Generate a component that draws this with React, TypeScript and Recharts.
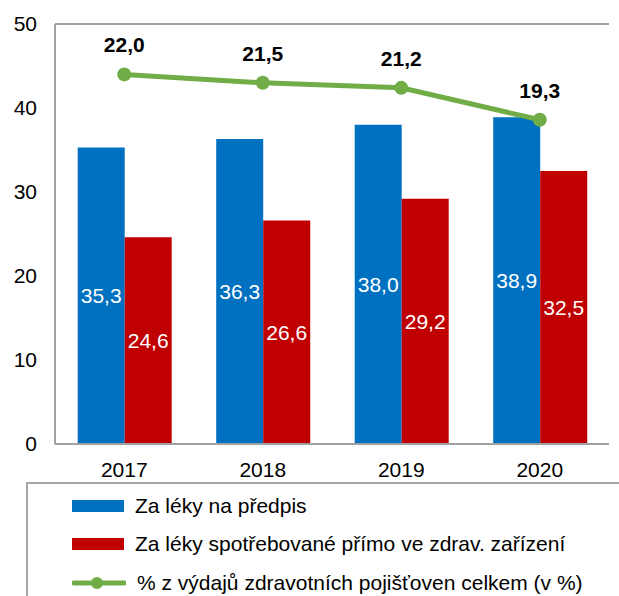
import React from 'react';
import {
  ComposedChart,
  Bar,
  Line,
  XAxis,
  YAxis,
  CartesianGrid,
  LabelList,
  ReferenceLine,
} from 'recharts';

const years = ['2017', '2018', '2019', '2020'];
const prescription = [35.3, 36.3, 38.0, 38.9];
const facility = [24.6, 26.6, 29.2, 32.5];
const shareOfTotal = [22.0, 21.5, 21.2, 19.3];
const leftTicks = [0, 10, 20, 30, 40, 50];

const seriesNames = [
  'Za léky na předpis',
  'Za léky spotřebované přímo ve zdrav. zařízení',
  '% z výdajů zdravotních pojišťoven celkem (v %)',
];

const BLUE = '#0070C0';
const RED = '#C00000';
const GREEN = '#70AD47';
const FONT = '"Liberation Sans", Arial, sans-serif';

const data = years.map((year, i) => ({
  year,
  prescription: prescription[i],
  facility: facility[i],
  share: shareOfTotal[i],
}));

const fmt = (v: any) => Number(v).toFixed(1).replace('.', ',');

const LegendBox = () => (
  <div
    style={{
      position: 'absolute',
      left: 26,
      top: 482,
      width: 620,
      height: 140,
      border: '2px solid #A6A6A6',
      boxSizing: 'border-box',
      fontSize: 21,
      color: '#000',
    }}
  >
    {seriesNames.map((name, i) => (
      <div
        key={name}
        style={{ position: 'absolute', left: 44, top: 8 + i * 38.4, height: 28, display: 'flex', alignItems: 'center' }}
      >
        {i < 2 ? (
          <div style={{ width: 52, height: 12, background: i === 0 ? BLUE : RED }} />
        ) : (
          <svg width={54} height={16}>
            <line x1={2} y1={8} x2={52} y2={8} stroke={GREEN} strokeWidth={5} strokeLinecap="round" />
            <circle cx={25} cy={8} r={6} fill={GREEN} />
          </svg>
        )}
        <span style={{ marginLeft: 11, whiteSpace: 'nowrap' }}>{name}</span>
      </div>
    ))}
  </div>
);

export default function App() {
  return (
    <div style={{ position: 'absolute', left: 0, top: 0, width: 619, height: 596, fontFamily: FONT, background: '#fff', overflow: 'hidden' }}>
      <ComposedChart
        width={619}
        height={480}
        data={data}
        margin={{ top: 24, right: 10, left: 0, bottom: 6 }}
        barGap={0}
        barCategoryGap="16.4%"
      >
        <CartesianGrid vertical={false} stroke="#D9D9D9" strokeWidth={2} />
        <XAxis
          dataKey="year"
          height={30}
          tickLine={false}
          tickSize={0}
          tickMargin={18}
          axisLine={{ stroke: '#A0A0A0', strokeWidth: 2 }}
          tick={{ fill: '#000', fontSize: 21 }}
        />
        <YAxis
          yAxisId="left"
          width={55}
          domain={[0, 50]}
          ticks={leftTicks}
          tickLine={false}
          tickSize={0}
          tickMargin={18}
          axisLine={{ stroke: '#A0A0A0', strokeWidth: 2 }}
          tick={{ fill: '#000', fontSize: 21 }}
        />
        <YAxis
          yAxisId="right"
          orientation="right"
          width={0}
          domain={[0, 25]}
          tick={false}
          tickLine={false}
          axisLine={{ stroke: '#A0A0A0', strokeWidth: 2 }}
        />
        <ReferenceLine yAxisId="left" y={50} stroke="#A0A0A0" strokeWidth={2} />
        <Bar yAxisId="left" dataKey="prescription" fill={BLUE} isAnimationActive={false}>
          <LabelList dataKey="prescription" position="center" fill="#fff" fontSize={21} formatter={fmt} />
        </Bar>
        <Bar yAxisId="left" dataKey="facility" fill={RED} isAnimationActive={false}>
          <LabelList dataKey="facility" position="center" fill="#fff" fontSize={21} formatter={fmt} />
        </Bar>
        <Line
          yAxisId="right"
          dataKey="share"
          stroke={GREEN}
          strokeWidth={5}
          dot={{ r: 7, fill: GREEN, stroke: 'none' }}
          activeDot={false}
          isAnimationActive={false}
        >
          <LabelList dataKey="share" position="top" offset={22} fill="#000" fontSize={21} fontWeight="bold" formatter={fmt} />
        </Line>
      </ComposedChart>
      <LegendBox />
    </div>
  );
}
